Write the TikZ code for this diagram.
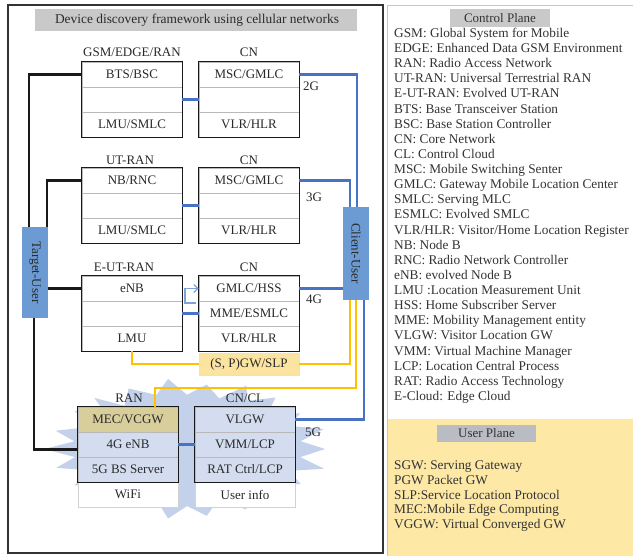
\documentclass[tikz,border=0pt]{standalone}
\usepackage{fontspec}
\setmainfont{Liberation Serif}
\usetikzlibrary{arrows.meta,calc}
\definecolor{lnblue}{HTML}{4A72C4}
\definecolor{lnlight}{HTML}{7FA3D6}
\definecolor{lnyel}{HTML}{FFC000}
\definecolor{ubox}{HTML}{6B9BD2}
\definecolor{titlegray}{HTML}{C9C9C9}
\definecolor{upgray}{HTML}{B9BCC3}
\definecolor{ypanel}{HTML}{FDE8A6}
\definecolor{spfill}{HTML}{FBE3A0}
\definecolor{khaki}{HTML}{D8CE9C}
\definecolor{cellblue}{HTML}{D3DDEF}
\definecolor{starblue}{HTML}{C3D1EA}
\definecolor{txt}{HTML}{2A2A2A}
\definecolor{legtxt}{HTML}{333333}
\tikzset{
  cell/.style={draw=gray!55, line width=0.8pt, minimum width=100pt, minimum height=25pt, inner sep=0pt, font=\fontsize{13}{14}\selectfont, text=txt},
  outerbox/.style={draw=black!90, line width=1.4pt},
  lbl/.style={font=\fontsize{13}{14}\selectfont, text=txt, inner sep=0pt},
  leg/.style={anchor=base west, inner sep=0pt, font=\fontsize{13.3}{14}\selectfont, text=legtxt},
  userbox/.style={fill=ubox, minimum width=26pt, inner sep=0pt, font=\fontsize{13}{14}\selectfont, text=txt},
  blink/.style={draw=lnblue, line width=2.2pt},
  klink/.style={draw=black!90, line width=2.6pt},
  ylink/.style={draw=lnyel, line width=2.6pt},
}
\begin{document}
\begin{tikzpicture}[x=1pt,y=-1pt]
\useasboundingbox (0,0) rectangle (633,558);
\fill[white] (0,0) rectangle (633,558);

% right panel
\fill[ypanel] (387,419) rectangle (633,556);
\draw[gray!45, line width=1pt] (633,5) -- (387,5) -- (387,556);
\fill[titlegray] (450,9) rectangle (550,27);
\node[lbl, text=legtxt] (cptitle) at (500,18) {Control Plane};
\foreach \t [count=\i] in {{GSM: Global System for Mobile},{EDGE: Enhanced Data GSM Environment},{RAN: Radio Access Network},{UT-RAN: Universal Terrestrial RAN},{E-UT-RAN: Evolved UT-RAN},{BTS: Base Transceiver Station},{BSC: Base Station Controller},{CN: Core Network},{CL: Control Cloud},{MSC: Mobile Switching Senter},{GMLC: Gateway Mobile Location Center},{SMLC: Serving MLC},{ESMLC: Evolved SMLC},{VLR/HLR: Visitor/Home Location Register},{NB: Node B},{RNC: Radio Network Controller},{eNB: evolved Node B},{LMU :Location Measurement Unit},{HSS: Home Subscriber Server},{MME: Mobility Management entity},{VLGW: Visitor Location GW},{VMM: Virtual Machine Manager},{LCP: Location Central Process},{RAT: Radio Access Technology},{E-Cloud: Edge Cloud}}
  \node[leg] (cp\i) at (394,{37.5+15.12*(\i-1)}) {\t};
\fill[upgray] (437,425) rectangle (536,442);
\node[lbl, text=legtxt] (uptitle) at (486.5,433.5) {User Plane};
\foreach \t [count=\i] in {{SGW: Serving Gateway},{PGW Packet GW},{SLP:Service Location Protocol},{MEC:Mobile Edge Computing},{VGGW: Virtual Converged GW}}
  \node[leg] (up\i) at (394,{469.5+14.8*(\i-1)}) {\t};

% left panel
\draw[black!80, line width=1.6pt] (8,5) rectangle (383,553);
\fill[titlegray] (35,9) rectangle (357,31);
\node[lbl, font=\fontsize{13.4}{14}\selectfont] (title) at (197,20) {Device discovery framework using cellular networks};

% starburst
\fill[starblue] plot[samples at={0,...,43}, variable=\k]
  ({187+(138*(1-0.2*mod(\k,2))+5*sin(\k*53))*cos(\k*360/44)},
   {449+(68*(1-0.2*mod(\k,2))+3*sin(\k*71))*sin(\k*360/44)}) -- cycle;

% GSM
\node[lbl] (lg) at (132,52) {GSM/EDGE/RAN};
\node[cell] (g1) at (132,74.5) {BTS/BSC};
\node[cell] (g2) at (132,99.5) {};
\node[cell] (g3) at (132,124.5) {LMU/SMLC};
\draw[outerbox] (g1.north west) rectangle (g3.south east);
\node[lbl] (lc1) at (249,52) {CN};
\node[cell] (c11) at (249,74.5) {MSC/GMLC};
\node[cell] (c12) at (249,99.5) {};
\node[cell] (c13) at (249,124.5) {VLR/HLR};
\draw[outerbox] (c11.north west) rectangle (c13.south east);

% UT-RAN
\node[lbl] (lu) at (130,160) {UT-RAN};
\node[cell] (u1) at (132,180.5) {NB/RNC};
\node[cell] (u2) at (132,205.5) {};
\node[cell] (u3) at (132,230.5) {LMU/SMLC};
\draw[outerbox] (u1.north west) rectangle (u3.south east);
\node[lbl] (lc2) at (249,160) {CN};
\node[cell] (c21) at (249,180.5) {MSC/GMLC};
\node[cell] (c22) at (249,205.5) {};
\node[cell] (c23) at (249,230.5) {VLR/HLR};
\draw[outerbox] (c21.north west) rectangle (c23.south east);

% E-UT-RAN
\node[lbl] (le) at (124,267) {E-UT-RAN};
\node[cell] (e1) at (132,288.5) {eNB};
\node[cell] (e2) at (132,313.5) {};
\node[cell] (e3) at (132,338.5) {LMU};
\draw[outerbox] (e1.north west) rectangle (e3.south east);
\node[lbl] (lc3) at (249,267) {CN};
\node[cell] (c31) at (249,288.5) {GMLC/HSS};
\node[cell] (c32) at (249,313.5) {MME/ESMLC};
\node[cell] (c33) at (249,338.5) {VLR/HLR};
\draw[outerbox] (c31.north west) rectangle (c33.south east);
\node[cell, fill=spfill, draw=lnyel!45, minimum height=22pt] (sp) at (249,364) {(S, P)GW/SLP};

% 5G boxes
\node[lbl] (lran) at (129,398) {RAN};
\node[cell, fill=khaki] (r1) at (128,419.5) {MEC/VCGW};
\node[cell, fill=cellblue] (r2) at (128,444.5) {4G eNB};
\node[cell, fill=cellblue] (r3) at (128,469.5) {5G BS Server};
\node[cell, fill=white, draw=gray!35] (r4) at (128,494.5) {WiFi};
\draw[outerbox] (r1.north west) rectangle (r3.south east);
\node[lbl] (lcl) at (245,398) {CN/CL};
\node[cell, fill=cellblue] (l1) at (245,419.5) {VLGW};
\node[cell, fill=cellblue] (l2) at (245,444.5) {VMM/LCP};
\node[cell, fill=cellblue] (l3) at (245,469.5) {RAT Ctrl/LCP};
\node[cell, fill=white, draw=gray!35] (l4) at (245,494.5) {User info};
\draw[outerbox] (l1.north west) rectangle (l3.south east);

% users
\node[userbox, minimum height=93pt] (cu) at (356,253.5) {\rotatebox{-90}{Client-User}};
\node[userbox, minimum height=91pt] (tu) at (35,272.5) {\rotatebox{-90}{Target-User}};

% labels
\node[lbl] (l2g) at (311,86) {2G};
\node[lbl] (l3g) at (314,197) {3G};
\node[lbl] (l4g) at (314,299) {4G};
\node[lbl] (l5g) at (313,432) {5G};

% blue links
\draw[blink] (g2.east) -- (c12.west);
\draw[blink] (u2.east) -- (c22.west);
\draw[blink] (e2.east) -- (c32.west);
\draw[blink] (r2.east) -- (l2.west);
\draw[blink] (c11.east) -| ([xshift=1pt]cu.north);
\draw[blink] (c21.east) -| ([xshift=-6pt]cu.north);
\draw[blink] (c31.east) -- (c31.east -| cu.west);
\draw[blink] ([xshift=8pt]cu.south) |- (l1.east);
\coordinate (lp) at (196,303);
\draw[lnlight, line width=1.2pt, -{Straight Barb[length=4pt]}] (lp) -- (185,303) |- (c31.west);

% yellow links
\draw[ylink] (e3.south) |- (sp.west);
\draw[ylink] (sp.east) -| ([xshift=-6pt]cu.south);
\draw[ylink] (cu.south) -- (cu.south |- 0,388) -| ([xshift=27pt]r1.north);

% black links
\draw[klink] (g1.west) -| ([xshift=-6pt]tu.north);
\draw[klink] (u1.west) -| ([xshift=12pt]tu.north);
\draw[klink] (tu.east |- e1.west) -- (e1.west);
\draw[klink] ([xshift=-1pt]tu.south) |- ([yshift=-5pt]r2.west);
\end{tikzpicture}
\end{document}
